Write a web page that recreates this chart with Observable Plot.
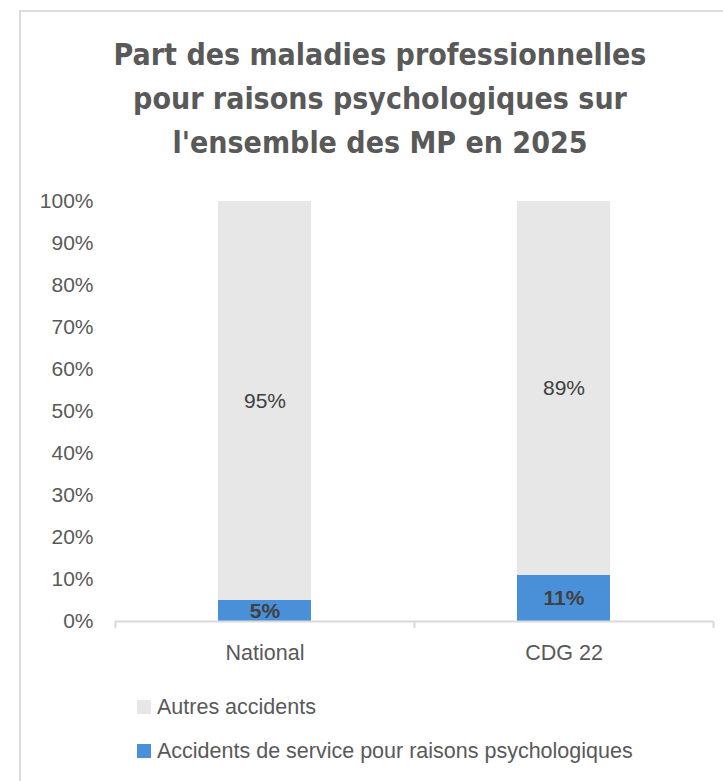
<!DOCTYPE html>
<html>
<head>
<meta charset="utf-8">
<script src="https://cdn.jsdelivr.net/npm/d3@7"></script>
<script src="https://cdn.jsdelivr.net/npm/@observablehq/plot@0.6"></script>
<style>
  html, body { margin: 0; padding: 0; background: #fff; }
  #wrap { position: relative; width: 723px; height: 781px; overflow: hidden; font-family: "Liberation Sans", Arial, sans-serif; }
  #frame { position: absolute; left: 19px; top: 10px; width: 720px; height: 800px; border-left: 2px solid #dcdcdc; border-top: 2px solid #dcdcdc; box-sizing: border-box; }
  #title { position: absolute; left: 20px; width: 720px; top: 33px; text-align: center; color: #595959;
           font-family: "Liberation Sans Narrow", "DejaVu Sans Condensed", "Roboto Condensed", sans-serif; font-weight: bold; font-size: 30px; line-height: 44px; }
  #chart { position: absolute; left: 0; top: 0; }
  #legend { position: absolute; left: 137px; top: 692px; color: #595959; font-size: 21.5px; }
  .item { display: flex; align-items: center; height: 30px; margin-bottom: 14px; }
  .sw { width: 14px; height: 14px; margin-right: 6px; }
</style>
</head>
<body>
<div id="wrap">
  <div id="frame"></div>
  <div id="title">Part des maladies professionnelles<br>pour raisons psychologiques sur<br>l'ensemble des MP en 2025</div>
  <div id="chart"></div>
  <div id="legend"></div>
</div>
<script>
const categories = ["National", "CDG 22"];
const series = ["Accidents de service pour raisons psychologiques", "Autres accidents"];
const psycho = [0.05, 0.11];
const autres = [0.95, 0.89];
const yTicks = [0, 0.1, 0.2, 0.3, 0.4, 0.5, 0.6, 0.7, 0.8, 0.9, 1.0];
const colors = ["#4a90d9", "#e7e7e7"];
const legendOrder = ["Autres accidents", "Accidents de service pour raisons psychologiques"];

const data = [];
categories.forEach((c, i) => {
  data.push({cat: c, series: series[0], value: psycho[i]});
  data.push({cat: c, series: series[1], value: autres[i]});
});

const W = 723, H = 680, mL = 115, mR = 10, mT = 201, mB = H - 621;
const step = (W - mL - mR) / categories.length;
const pct = d3.format(".0%");

const labelMark = (bold) => Plot.text(data, Plot.stackY({
  x: "cat", y: "value", z: "series", order: series,
  text: d => ((d.series === series[0]) === bold) ? pct(d.value) : "",
  fill: "#404040", fontSize: 21, fontWeight: bold ? "bold" : "normal"
}));

const chart = Plot.plot({
  width: W, height: H,
  marginLeft: mL, marginRight: mR, marginTop: mT, marginBottom: mB,
  style: {fontFamily: "Liberation Sans, Arial, sans-serif", fontSize: "21px", color: "#595959", background: "transparent", overflow: "visible"},
  x: {domain: categories, paddingInner: 0.69, paddingOuter: 0.345, label: null},
  y: {domain: [0, 1], label: null},
  color: {domain: series, range: colors},
  marks: [
    Plot.axisY({ticks: yTicks, tickFormat: pct, tickSize: 0, tickPadding: 22, fontSize: 21, fill: "#595959"}),
    Plot.axisX({tickSize: 0, tickPadding: 23, fontSize: 21.5, fill: "#595959"}),
    Plot.barY(data, Plot.stackY({x: "cat", y: "value", fill: "series", order: series})),
    labelMark(false),
    labelMark(true),
    Plot.ruleY([0], {stroke: "#d9d9d9", strokeWidth: 2}),
    Plot.ruleX(categories, {x: d => d, dx: -step / 2, y1: 0, y2: 0, insetBottom: -7, stroke: "#d9d9d9", strokeWidth: 2}),
    Plot.ruleX([categories[categories.length - 1]], {x: d => d, dx: step / 2, y1: 0, y2: 0, insetBottom: -7, stroke: "#d9d9d9", strokeWidth: 2})
  ]
});
document.getElementById("chart").appendChild(chart);

const leg = document.getElementById("legend");
legendOrder.forEach(s => {
  const it = document.createElement("div");
  it.className = "item";
  const sw = document.createElement("div");
  sw.className = "sw";
  sw.style.background = colors[series.indexOf(s)];
  const t = document.createElement("span");
  t.textContent = s;
  it.appendChild(sw); it.appendChild(t);
  leg.appendChild(it);
});
</script>
</body>
</html>
